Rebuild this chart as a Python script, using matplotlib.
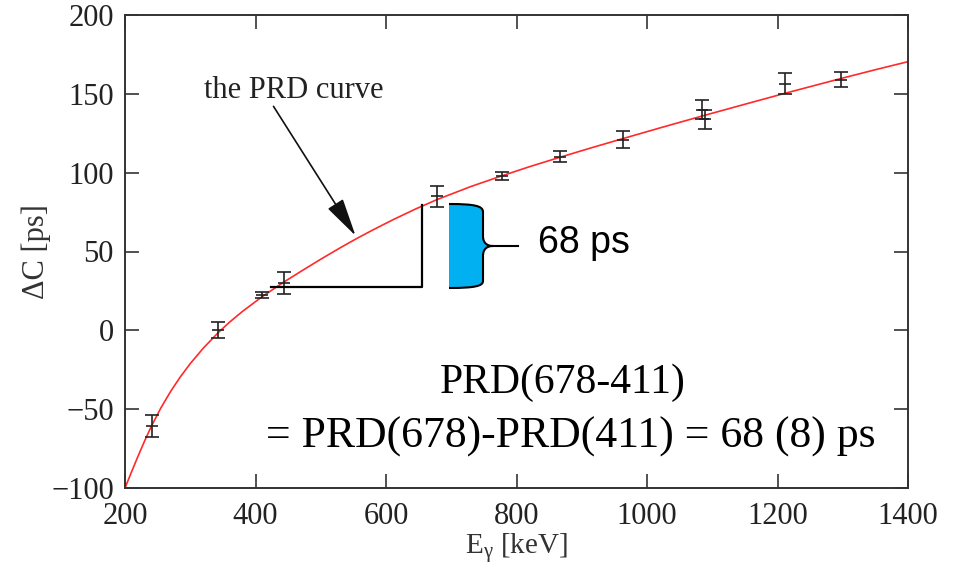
import matplotlib
matplotlib.use('Agg')
import matplotlib.pyplot as plt
from matplotlib.path import Path
from matplotlib.patches import PathPatch, FancyArrowPatch
from matplotlib.transforms import Affine2D

# datos medidos (energia gamma vs Delta C)
energias = [241, 343, 410, 443, 678, 778, 866, 963, 1084, 1089, 1212, 1298]
delta_c = [-60.5, 0, 22.5, 30, 85, 98, 110, 121, 140, 134, 156.5, 159]
errores = [7, 5, 2, 7, 6.5, 2.5, 3.5, 5.5, 6, 6, 6.5, 4.7]

# curva PRD
curva_e = [200, 210, 220, 230, 240, 255, 270, 285, 300, 320, 343, 360, 380,
           410, 443, 470, 500, 530, 555, 580, 610, 645, 678, 730, 777, 820,
           866, 915, 963, 1025, 1086, 1150, 1212, 1255, 1298, 1350, 1400]
curva_c = [-100, -89.8, -79.8, -70.2, -61.2, -49.2, -38.7, -29.4, -21.1,
           -11.3, -1.4, 5.1, 12.0, 21.3, 30.5, 37.5, 45.1, 52.4, 58.2, 63.7,
           70.0, 76.9, 82.9, 91.2, 97.9, 103.8, 109.7, 115.8, 121.6, 129.0,
           136.1, 143.4, 150.4, 155.1, 159.8, 165.3, 170.4]

plt.rcParams['font.family'] = ['Liberation Serif', 'DejaVu Serif']
plt.rcParams['mathtext.default'] = 'regular'

W, H = 961, 569
fig = plt.figure(figsize=(W / 100, H / 100), dpi=100)
ax = fig.add_axes([125 / W, 1 - 488 / H, 783 / W, 473 / H])

# transformacion en pixeles de la imagen (y hacia abajo)
px = Affine2D().scale(1 / W, -1 / H).translate(0, 1) + fig.transFigure

ax.plot(curva_e, curva_c, color='#ff2a2a', linewidth=1.2, zorder=2)
ax.errorbar(energias, delta_c, yerr=errores, fmt='_', color='#222222',
            markersize=9, capsize=4.8, elinewidth=1.2, capthick=1.2,
            markeredgewidth=1.2, zorder=3)

ax.set_xlim(200, 1400)
ax.set_ylim(-100, 200)
ax.set_xticks(range(200, 1401, 200))
ax.set_yticks(range(-100, 201, 50))
ax.set_yticklabels(['\u2212100', '\u221250', '0', '50', '100', '150', '200'])
ax.tick_params(direction='in', length=10, width=1.2, top=True, right=True,
               labelsize=22, colors='#333333', labelcolor='#222222')
ax.tick_params(axis='x', pad=10)
ax.tick_params(axis='y', pad=8)
for s in ax.spines.values():
    s.set_linewidth(1.4)
    s.set_color('#333333')

ax.set_xlabel('E$_{\\gamma}$ [keV]', fontsize=21, color='#333333', labelpad=0)
ax.set_ylabel('\u0394C [ps]', fontsize=22, color='#333333', labelpad=0)

# anotacion de la curva
fig.text(294, 91, 'the PRD curve', transform=px, fontsize=22,
         ha='center', va='center', color='#222222')
flecha = FancyArrowPatch((272, 104), (357, 238), transform=px,
                         arrowstyle='-|>,head_length=1.7,head_width=0.4',
                         mutation_scale=14, color='#111111', linewidth=1.2)
fig.add_artist(flecha)

# triangulo
fig.add_artist(plt.Line2D([271, 422, 422], [287, 287, 205], transform=px,
                          color='black', linewidth=1.6))

# llave azul
verts = [(449, 204), (475, 204), (483, 206), (483, 212),
         (483, 236), (483, 243), (487, 246), (493, 246),
         (487, 246), (483, 249), (483, 256),
         (483, 281), (483, 286), (475, 288), (449, 288),
         (449, 204)]
codes = [Path.MOVETO, Path.CURVE4, Path.CURVE4, Path.CURVE4,
         Path.LINETO, Path.CURVE4, Path.CURVE4, Path.CURVE4,
         Path.CURVE4, Path.CURVE4, Path.CURVE4,
         Path.LINETO, Path.CURVE4, Path.CURVE4, Path.CURVE4,
         Path.CLOSEPOLY]
fig.add_artist(PathPatch(Path(verts, codes), transform=px,
                         facecolor='#00b0f0', edgecolor='none'))
borde = Path(verts[:-1], codes[:-1])
fig.add_artist(PathPatch(borde, transform=px, facecolor='none',
                         edgecolor='black', linewidth=1.5))
fig.add_artist(plt.Line2D([493, 518], [246, 246], transform=px,
                          color='black', linewidth=1.5))

fig.text(584, 243, '68 ps', transform=px, fontsize=27, ha='center',
         va='center', family='Liberation Sans')

fig.text(563, 383, 'PRD(678-411)', transform=px, fontsize=30,
         ha='center', va='center')
fig.text(571, 437, '= PRD(678)-PRD(411) = 68 (8) ps', transform=px,
         fontsize=31.5, ha='center', va='center')

fig.savefig('out.png', dpi=100)
